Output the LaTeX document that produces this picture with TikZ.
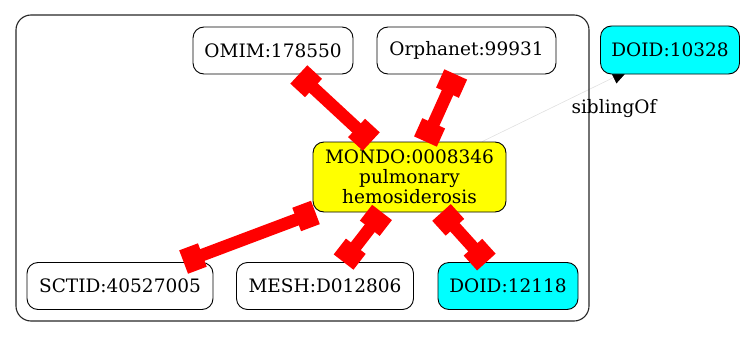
\documentclass[tikz,border=0pt]{standalone}
\usepackage{fontspec}
\setmainfont{DejaVu Serif}
\usetikzlibrary{arrows.meta,backgrounds}
\definecolor{aqua}{RGB}{0,255,255}
\definecolor{lemon}{RGB}{255,255,0}
\definecolor{faint}{RGB}{225,225,225}
\begin{document}
\begin{tikzpicture}[x=1pt,y=-1pt,
  term/.style={draw=black, line width=0.9pt, rounded corners=11pt, fill=white,
    inner sep=0pt, minimum height=47pt, align=center,
    font=\fontsize{18.5}{20}\selectfont},
  equiv/.style={draw=red, line width=12.5pt,
    {Square[length=20pt,width=25pt]}-{Square[length=20pt,width=25pt]}},
  sib/.style={draw=faint, line width=0.6pt, shorten >=-9pt,
    -{Triangle[length=16pt,width=13pt,color=black]}},
  elabel/.style={font=\fontsize{18.5}{20}\selectfont}]
\useasboundingbox (0,0) rectangle (746,337);

% cluster frame
\draw[line width=1.1pt, draw=black!85, rounded corners=15pt] (16,15) rectangle (589,321);

% terms
\node[term, minimum width=160pt] (omim) at (273,50.5) {OMIM:178550};
\node[term, minimum width=179pt] (orpha) at (466.5,50.5) {Orphanet:99931};
\node[term, minimum width=193pt, minimum height=70pt, fill=lemon] (mondo) at (409.5,177) {MONDO:0008346\\pulmonary\\hemosiderosis};
\node[term, minimum width=186pt] (sctid) at (120,286) {SCTID:40527005};
\node[term, minimum width=177pt] (mesh) at (325,286) {MESH:D012806};
\node[term, minimum width=140pt, fill=aqua] (doidb) at (508,286) {DOID:12118};
\node[term, minimum width=139pt, minimum height=48pt, fill=aqua] (doida) at (670,50) {DOID:10328};

% sibling link leaving the cluster, tip tucked under the target box
\begin{scope}[on background layer]
  \draw[sib] (mondo) -- (doida);
\end{scope}
\node[elabel] (siblbl) at (614,109) {siblingOf};

% equivalence links
\draw[equiv] (omim) -- (mondo);
\draw[equiv] (orpha) -- (mondo);
\draw[equiv] (sctid) -- (mondo);
\draw[equiv] (mesh) -- (mondo);
\draw[equiv] (doidb) -- (mondo);
\end{tikzpicture}
\end{document}
